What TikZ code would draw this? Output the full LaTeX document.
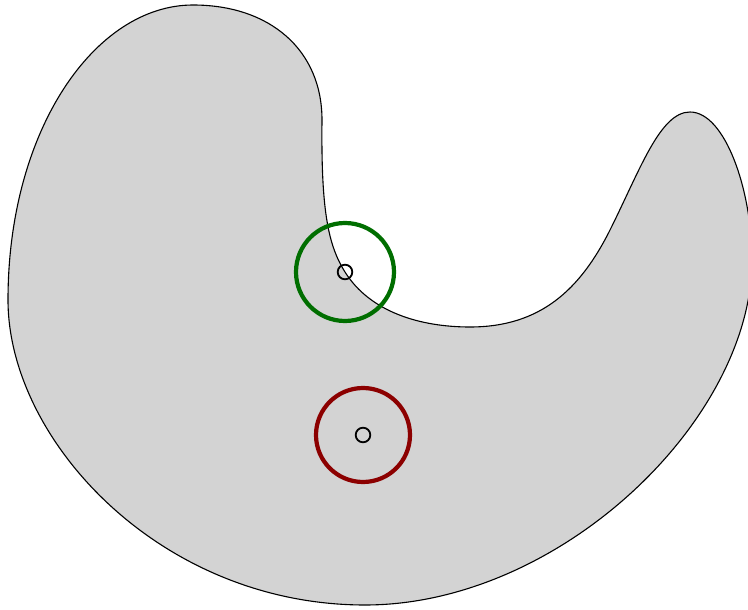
\documentclass[tikz,border=0pt]{standalone}
\definecolor{grisclair}{RGB}{211,211,211}
\definecolor{vertfonce}{RGB}{0,110,0}
\definecolor{rougefonce}{RGB}{140,0,0}
\usepackage{tikz}
\usetikzlibrary{calc}
\begin{document}
\begin{tikzpicture}[x=1pt,y=-1pt]
				\useasboundingbox (0,0) rectangle (748,610);
				\coordinate (p) at (345,272);
				\coordinate (q) at (363,435);
				\draw[fill=grisclair,line width=1.1pt] (193,5)
					.. controls (270,5) and (322,50) .. (322,120)
					.. controls (321,210) and (328,245) .. (p)
					.. controls (370,312) and (420,327) .. (470,327)
					.. controls (540,327) and (580,290) .. (610,230)
					.. controls (640,170) and (660,112) .. (690,112)
					.. controls (725,112) and (752,190) .. (752,260)
					.. controls (752,420) and (560,605) .. (365,605)
					.. controls (160,605) and (8,440) .. (8,300)
					.. controls (8,130) and (95,5) .. cycle;
				\draw[vertfonce,line width=4.2pt] (p) circle (49);
				\draw[rougefonce,line width=4.2pt] (q) circle (47);
				\draw[line width=1.8pt] (p) circle (7.3);
				\draw[line width=1.8pt] (q) circle (7.3);
			\end{tikzpicture}
\end{document}
